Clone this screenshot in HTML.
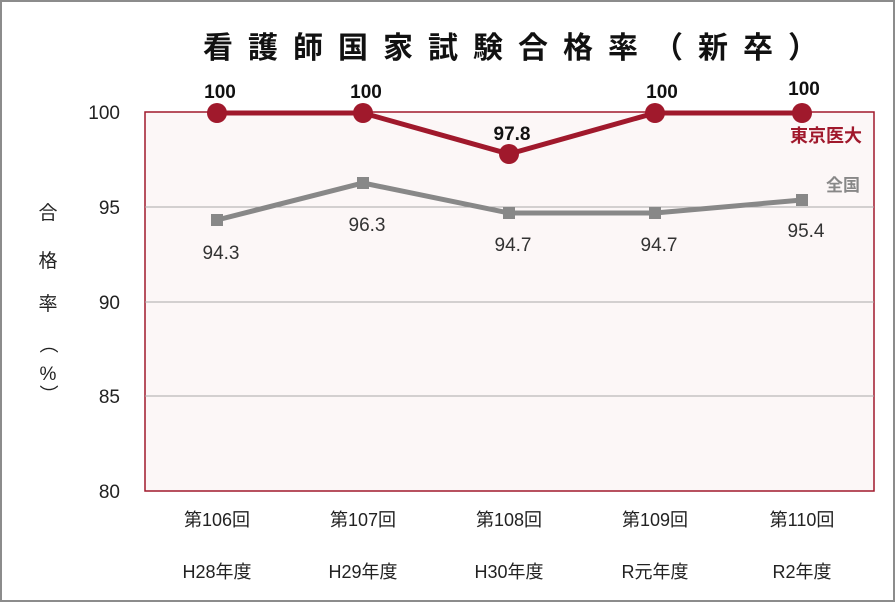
<!DOCTYPE html>
<html><head><meta charset="utf-8"><style>
body{margin:0;background:#fff}
svg{display:block}
text{font-family:"Liberation Sans","Noto Sans CJK JP",sans-serif}
</style></head><body>
<svg width="896" height="603" viewBox="0 0 896 603">
<rect x="1" y="1" width="893" height="600" fill="#fff" stroke="#8c8c8c" stroke-width="2"/>
<text x="518" y="58" text-anchor="middle" font-size="30" font-weight="bold" letter-spacing="15" fill="#111">看護師国家試験合格率（新卒）</text>
<rect x="145" y="112" width="729" height="379" fill="#fcf7f7" stroke="#a0192c" stroke-width="1.5"/>
<g stroke="#aaa" stroke-width="1">
<line x1="145" y1="207" x2="874" y2="207"/>
<line x1="145" y1="302" x2="874" y2="302"/>
<line x1="145" y1="396" x2="874" y2="396"/>
</g>
<g font-size="19" fill="#222" text-anchor="end">
<text x="120" y="119">100</text><text x="120" y="214">95</text><text x="120" y="309">90</text><text x="120" y="403">85</text><text x="120" y="498">80</text>
</g>
<g font-size="19" fill="#222" text-anchor="middle">
<text x="48" y="219">合</text><text x="48" y="267">格</text><text x="48" y="310">率</text><text x="48" y="350" transform="rotate(90 48 344)">（</text><text x="48" y="380">%</text><text x="48" y="400" transform="rotate(90 48 394)">）</text>
</g>
<g font-size="18" fill="#222" text-anchor="middle">
<text x="217" y="526">第106回</text><text x="363" y="526">第107回</text><text x="509" y="526">第108回</text><text x="655" y="526">第109回</text><text x="802" y="526">第110回</text>
<text x="217" y="578">H28年度</text><text x="363" y="578">H29年度</text><text x="509" y="578">H30年度</text><text x="655" y="578">R元年度</text><text x="802" y="578">R2年度</text>
</g>
<polyline points="217,220 363,183 509,213 655,213 802,200" fill="none" stroke="#888" stroke-width="5"/>
<g fill="#888">
<rect x="211" y="214" width="12" height="12"/><rect x="357" y="177" width="12" height="12"/><rect x="503" y="207" width="12" height="12"/><rect x="649" y="207" width="12" height="12"/><rect x="796" y="194" width="12" height="12"/>
</g>
<g font-size="19" fill="#333" text-anchor="middle">
<text x="221" y="259">94.3</text><text x="367" y="231">96.3</text><text x="513" y="251">94.7</text><text x="659" y="251">94.7</text><text x="806" y="237">95.4</text>
</g>
<polyline points="217,113 363,113 509,154 655,113 802,113" fill="none" stroke="#a0192c" stroke-width="5"/>
<g fill="#a0192c">
<circle cx="217" cy="113" r="10"/><circle cx="363" cy="113" r="10"/><circle cx="509" cy="154" r="10"/><circle cx="655" cy="113" r="10"/><circle cx="802" cy="113" r="10"/>
</g>
<g font-size="19" font-weight="bold" fill="#111" text-anchor="middle">
<text x="220" y="98">100</text><text x="366" y="98">100</text><text x="512" y="140">97.8</text><text x="662" y="98">100</text><text x="804" y="95">100</text>
</g>
<text x="862" y="142" text-anchor="end" font-size="18" font-weight="bold" fill="#a0192c">東京医大</text>
<text x="860" y="191" text-anchor="end" font-size="17" font-weight="bold" fill="#888">全国</text>
</svg>
</body></html>
